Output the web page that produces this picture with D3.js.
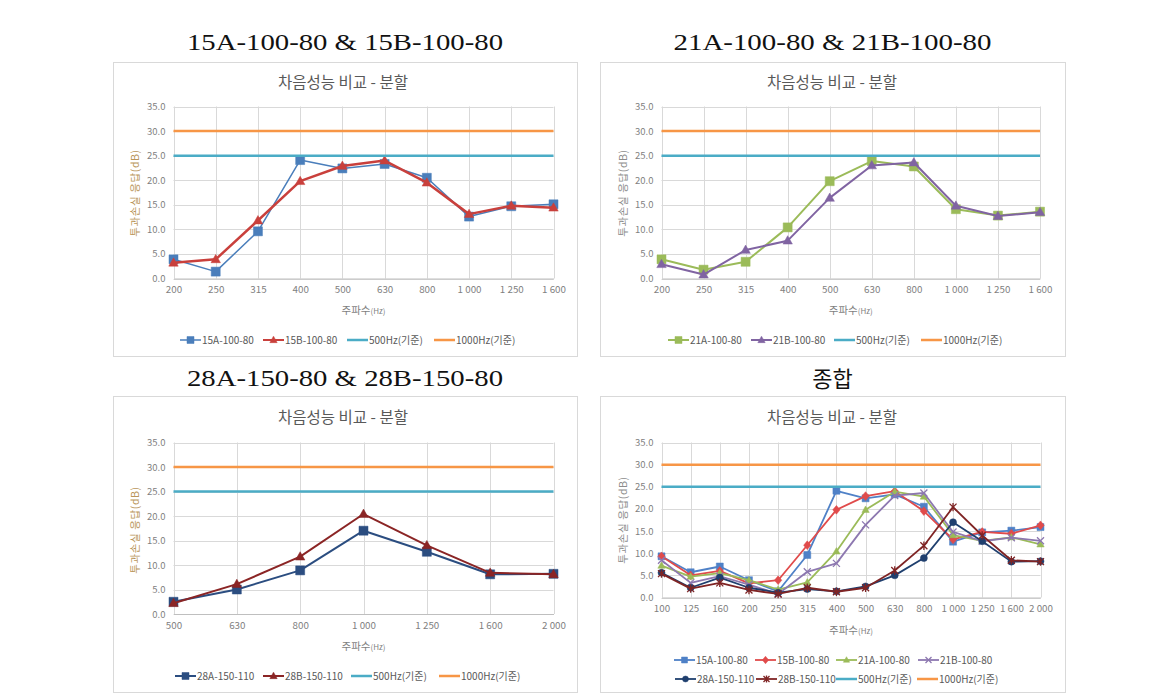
<!DOCTYPE html>
<html><head><meta charset="utf-8">
<script src="https://cdn.jsdelivr.net/npm/d3@7"></script>
<style>
html,body{margin:0;padding:0;background:#fff;}
svg{display:block;}
</style></head>
<body>
<svg id="c" width="1175" height="699"></svg>
<script>
// ---------------- DATA ----------------
const freqAll = ["100","125","160","200","250","315","400","500","630","800","1 000","1 250","1 600","2 000"];
const freqP1 = ["200","250","315","400","500","630","800","1 000","1 250","1 600"];
const freqP3 = ["500","630","800","1 000","1 250","1 600","2 000"];
const yTicks = [0,5,10,15,20,25,30,35];
const s15A = [9.3, 5.7, 7.0, 3.9, 1.4, 9.6, 24.1, 22.4, 23.3, 20.5, 12.6, 14.7, 15.1, 15.9];
const s15B = [9.3, 5.0, 6.0, 3.2, 3.9, 11.8, 19.8, 22.9, 24.0, 19.5, 13.1, 14.8, 14.4, 16.3];
const s21A = [7.2, 4.7, 5.5, 3.9, 1.8, 3.4, 10.4, 19.8, 23.9, 22.8, 14.1, 12.8, 13.6, 12.0];
const s21B = [8.4, 3.3, 4.8, 2.9, 0.8, 5.8, 7.7, 16.4, 23.0, 23.6, 14.8, 12.7, 13.5, 12.8];
const s28A = [5.6, 2.2, 4.5, 2.2, 1.1, 1.9, 1.4, 2.5, 5.0, 8.9, 17.0, 12.7, 8.1, 8.2];
const s28B = [5.4, 2.0, 3.3, 1.7, 0.8, 2.2, 1.3, 2.2, 6.1, 11.7, 20.4, 14.0, 8.4, 8.1];
const ref500 = 25.0;
const ref1000 = 30.0;
const headTitles = ["15A-100-80 & 15B-100-80","21A-100-80 & 21B-100-80","28A-150-80 & 28B-150-80","종합"];
const chartTitle = "차음성능 비교 - 분할";
const xTitle = "주파수";
const xUnit = "(Hz)";
const yTitle = "투과손실 응답(dB)";

// ---------------- HELPERS ----------------
const svg = d3.select("#c");
const FONT = "'Noto Sans CJK KR','Noto Sans',sans-serif";
const pick = (arr, labels) => labels.map(l => ({f:l, v: arr[freqAll.indexOf(l)]}));

function markerPath(type, s){
  const h = s/2;
  switch(type){
    case "square": return `M${-h},${-h}H${h}V${h}H${-h}Z`;
    case "diamond": return `M0,${-h*1.25}L${h*1.05},0L0,${h*1.25}L${-h*1.05},0Z`;
    case "triangle": return `M0,${-h*1.1}L${h*1.05},${h*0.75}L${-h*1.05},${h*0.75}Z`;
    case "circle": return d3.arc()({innerRadius:0,outerRadius:h,startAngle:0,endAngle:2*Math.PI});
    case "x": return `M${-h},${-h}L${h},${h}M${h},${-h}L${-h},${h}`;
    case "star": return `M${-h},${-h}L${h},${h}M${h},${-h}L${-h},${h}M0,${-h*1.2}V${h*1.2}`;
  }
}
const strokeMarkers = new Set(["x","star"]);

function drawMarker(g, type, x, y, s, color){
  const p = g.append("path").attr("d", markerPath(type, s)).attr("transform",`translate(${x},${y})`);
  if (strokeMarkers.has(type)) p.attr("fill","none").attr("stroke",color).attr("stroke-width",1.3);
  else p.attr("fill",color).attr("stroke",color).attr("stroke-width",0.5);
}

function drawPanel(cfg){
  const g = svg.append("g");
  // border
  g.append("rect").attr("x",cfg.box[0]+0.5).attr("y",cfg.box[1]+0.5)
    .attr("width",cfg.box[2]-cfg.box[0]).attr("height",cfg.box[3]-cfg.box[1])
    .attr("fill","#fff").attr("stroke","#d9d9d9");
  // heading above
  const ht = g.append("text").attr("x",(cfg.box[0]+cfg.box[2])/2).attr("y",cfg.headY)
    .attr("text-anchor","middle").attr("font-family",cfg.headFont)
    .attr("font-size",cfg.headSize).attr("fill","#111").text(cfg.head);
  if (cfg.headLen) ht.attr("textLength",cfg.headLen).attr("lengthAdjust","spacingAndGlyphs");
  const x = d3.scalePoint().domain(cfg.cats).range(cfg.xr);
  const y = d3.scaleLinear().domain([0,35]).range(cfg.yr);
  // gridlines
  const grid = g.append("g").attr("stroke","#d9d9d9").attr("stroke-width",1);
  yTicks.forEach(t => grid.append("line").attr("x1",cfg.xr[0]).attr("x2",cfg.xr[1])
    .attr("y1",Math.round(y(t))+0.5).attr("y2",Math.round(y(t))+0.5));
  cfg.cats.forEach(c => grid.append("line").attr("x1",Math.round(x(c))+0.5).attr("x2",Math.round(x(c))+0.5)
    .attr("y1",cfg.yr[1]).attr("y2",cfg.yr[0]));
  // axes via d3
  const yAxis = d3.axisLeft(y).tickValues(yTicks).tickFormat(d3.format(".1f")).tickSize(0).tickPadding(8);
  const ya = g.append("g").attr("transform",`translate(${cfg.xr[0]},0)`).call(yAxis);
  ya.select(".domain").remove();
  ya.selectAll("text").attr("font-family",FONT).attr("font-size",9.5).attr("fill","#7f7f7f");
  const xAxis = d3.axisBottom(x).tickSize(0).tickPadding(cfg.xPad);
  const xa = g.append("g").attr("transform",`translate(0,${cfg.yr[0]})`).call(xAxis);
  xa.select(".domain").attr("stroke","#bfbfbf");
  xa.selectAll("text").attr("font-family",FONT).attr("font-size",9.8).attr("fill","#7f7f7f");
  // chart title
  g.append("text").attr("x",cfg.titleX).attr("y",cfg.titleY).attr("text-anchor","middle")
    .attr("font-family",FONT).attr("font-size",15.5).attr("fill","#595959").text(chartTitle);
  // x title
  const xt = g.append("text").attr("x",(cfg.xr[0]+cfg.xr[1])/2).attr("y",cfg.xTitleY).attr("text-anchor","middle")
    .attr("font-family",FONT).attr("font-size",10.5).attr("fill","#7f7f7f");
  xt.append("tspan").text(xTitle);
  xt.append("tspan").attr("font-size",8).text(xUnit);
  // y title
  g.append("text").attr("transform",`translate(${cfg.yTitleX},${cfg.yTitleY}) rotate(-90)`)
    .attr("text-anchor","middle").attr("font-family",FONT).attr("font-size",10.5)
    .attr("letter-spacing",0.6).attr("fill",cfg.yTitleColor).text(yTitle);
  // series lines
  const line = d3.line().x(d => x(d.f)).y(d => y(d.v));
  cfg.series.forEach(s => {
    const pts = pick(s.data, cfg.cats);
    g.append("path").datum(pts).attr("d",line).attr("fill","none")
      .attr("stroke",s.color).attr("stroke-width",s.w).attr("stroke-linejoin","round");
    pts.forEach(p => drawMarker(g, s.marker, x(p.f), y(p.v), cfg.mSize, s.color));
  });
  // reference lines
  const refs = [{v:ref500,color:"#4bacc6",name:"500Hz(기준)"},{v:ref1000,color:"#f79646",name:"1000Hz(기준)"}];
  refs.forEach(r => {
    g.append("line").attr("x1",cfg.xr[0]).attr("x2",cfg.xr[1]).attr("y1",y(r.v)).attr("y2",y(r.v))
      .attr("stroke",r.color).attr("stroke-width",2.5);
  });
  // legend
  const items = cfg.series.map(s => ({name:s.name,color:s.color,marker:s.marker,w:s.w}))
    .concat(refs.map(r => ({name:r.name,color:r.color,marker:null,w:2.5})));
  items.forEach((it,i) => {
    const [lx, ly] = cfg.legendPos[i];
    g.append("line").attr("x1",lx).attr("x2",lx+cfg.legLine).attr("y1",ly).attr("y2",ly)
      .attr("stroke",it.color).attr("stroke-width",it.marker ? Math.min(it.w,2) : 2.5);
    if (it.marker) drawMarker(g, it.marker, lx+cfg.legLine/2, ly, cfg.legM, it.color);
    g.append("text").attr("x",lx+cfg.legLine+1).attr("y",ly).attr("dy","0.35em")
      .attr("font-family",FONT).attr("font-size",10).attr("fill","#595959").text(it.name);
  });
}

const SERIF = "'Liberation Serif','DejaVu Serif',serif";
// ---------------- PANELS ----------------
drawPanel({
  box:[113,62,577,356], head:headTitles[0], headY:50, headSize:24, headFont:SERIF, headLen:316,
  cats:freqP1, xr:[173.5,553.5], yr:[278.5,106.5], xPad:8,
  titleX:343, titleY:88, xTitleY:314, yTitleX:139, yTitleY:193, yTitleColor:"#b9955a",
  mSize:9, legLine:21, legM:7,
  series:[
    {name:"15A-100-80",data:s15A,color:"#4a7ebb",marker:"square",w:1.5},
    {name:"15B-100-80",data:s15B,color:"#c9403c",marker:"triangle",w:2.5}],
  legendPos:[[180,340],[263,340],[347,340],[434,340]]
});
drawPanel({
  box:[600,62,1065,356], head:headTitles[1], headY:50, headSize:24, headFont:SERIF, headLen:318,
  cats:freqP1, xr:[661.5,1040], yr:[278.5,106.5], xPad:8,
  titleX:832, titleY:88, xTitleY:314, yTitleX:627, yTitleY:193, yTitleColor:"#8c8c8c",
  mSize:9, legLine:21, legM:7,
  series:[
    {name:"21A-100-80",data:s21A,color:"#9bbb59",marker:"square",w:2},
    {name:"21B-100-80",data:s21B,color:"#8064a2",marker:"triangle",w:2}],
  legendPos:[[668,340],[751,340],[834,340],[921,340]]
});
drawPanel({
  box:[113,396,577,692], head:headTitles[2], headY:386, headSize:24, headFont:SERIF, headLen:316,
  cats:freqP3, xr:[173.5,553.5], yr:[614,442.5], xPad:8,
  titleX:343, titleY:423, xTitleY:650, yTitleX:139, yTitleY:530, yTitleColor:"#b9955a",
  mSize:9, legLine:21, legM:7,
  series:[
    {name:"28A-150-110",data:s28A,color:"#2b4d80",marker:"square",w:2},
    {name:"28B-150-110",data:s28B,color:"#8b2525",marker:"triangle",w:2}],
  legendPos:[[175,676],[263,676],[351,676],[439,676]]
});
drawPanel({
  box:[600,396,1065,692], head:headTitles[3], headY:387, headSize:22, headFont:"'Noto Sans CJK KR',sans-serif",
  cats:freqAll, xr:[661.5,1040.5], yr:[597.5,442.5], xPad:8,
  titleX:832, titleY:423, xTitleY:634, yTitleX:627, yTitleY:520, yTitleColor:"#8c8c8c",
  mSize:7, legLine:21, legM:6,
  series:[
    {name:"15A-100-80",data:s15A,color:"#4f81c7",marker:"square",w:1.8},
    {name:"15B-100-80",data:s15B,color:"#e04b4b",marker:"diamond",w:1.8},
    {name:"21A-100-80",data:s21A,color:"#9bbb59",marker:"triangle",w:1.8},
    {name:"21B-100-80",data:s21B,color:"#8d78b0",marker:"x",w:1.8},
    {name:"28A-150-110",data:s28A,color:"#1f3f6e",marker:"circle",w:1.8},
    {name:"28B-150-110",data:s28B,color:"#7f2424",marker:"star",w:1.8}],
  legendPos:[[674,660],[755,660],[836,660],[918,660],[675,679],[756,679],[836,679],[917,679]]
});
</script>
</body></html>
